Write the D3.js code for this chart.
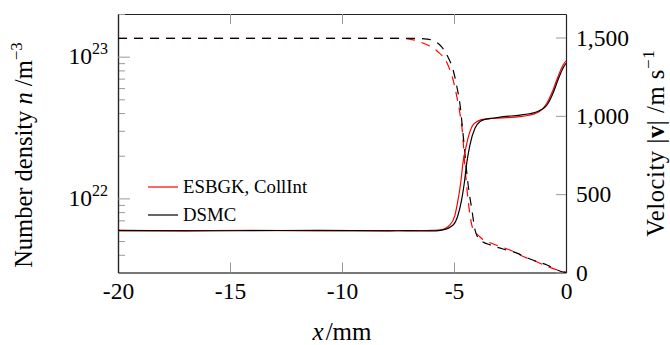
<!DOCTYPE html>
<html lang="en">
<head>
<meta charset="utf-8">
<script src="https://d3js.org/d3.v7.min.js"></script>
<style>
body{margin:0;background:#fff}
text{font-family:"Liberation Serif",serif;fill:#000}
</style>
</head>
<body>
<svg width="670" height="345"></svg>
<script>
// tick values
var xTicks = [-20,-15,-10,-5,0];
var velTicks = [0,500,1000,1500];
var densMajor = [1e22,1e23];
var densMinor = [4e21,5e21,6e21,7e21,8e21,9e21,2e22,3e22,4e22,5e22,6e22,7e22,8e22,9e22,2e23];

// number density (solid), m^-3
var esbgkDensX = [-20,-17,-14,-11,-8,-7,-6,-5.6,-5.18,-4.96,-4.82,-4.70,-4.60,-4.46,-4.29,-4.15,-4.06,-3.84,-3.62,-3.39,-2.81,-2.05,-1.29,-0.85,-0.58,-0.36,-0.13,0];
var esbgkDens  = [5.9e21,5.92e21,5.95e21,5.9e21,5.92e21,5.9e21,5.95e21,6.0e21,6.5e21,7.6e21,9.75e21,1.29e22,1.78e22,2.32e22,2.96e22,3.3e22,3.41e22,3.57e22,3.62e22,3.67e22,3.7e22,3.77e22,4.02e22,4.71e22,5.82e22,7.22e22,8.73e22,9.36e22];
var dsmcDensX = [-20,-17,-14,-11,-8,-7,-6,-5.6,-5.04,-4.82,-4.66,-4.54,-4.43,-4.29,-4.06,-3.84,-3.62,-3.39,-2.81,-2.05,-1.29,-0.85,-0.58,-0.36,-0.13,0];
var dsmcDens  = [5.95e21,5.9e21,5.92e21,5.95e21,5.9e21,5.92e21,5.9e21,5.95e21,6.49e21,7.63e21,9.75e21,1.285e22,1.78e22,2.38e22,3.14e22,3.48e22,3.61e22,3.65e22,3.77e22,3.87e22,4.09e22,4.56e22,5.52e22,6.84e22,8.32e22,8.98e22];

// velocity magnitude (dashed), m/s
var esbgkVelX = [-20,-10,-7.5,-7,-6.4,-5.76,-5.31,-5.04,-4.87,-4.73,-4.62,-4.51,-4.42,-4.29,-4.15,-4.06,-3.84,-3.71,-3.39,-2.95,-2.63,-2.19,-2.05,-1.47,-0.71,-0.3,0];
var esbgkVel  = [1495,1495,1494,1490,1465,1414,1337,1229,1120,1010,890,673,530,370,274,257,227,211,190,166,150,124,112,78,32,12,3];
var dsmcVelX = [-20,-10,-7,-6.2,-5.63,-5.27,-5.04,-4.87,-4.73,-4.60,-4.38,-4.20,-4.06,-3.84,-3.71,-3.39,-2.81,-2.19,-1.61,-0.85,-0.13,0];
var dsmcVel  = [1495,1495,1495,1490,1452,1375,1293,1184,1070,890,571,399,271,207,195,176,150,124,86,48,3,0];

var marge = {top:14,bottom:72.5,left:118,right:104};
var svg = d3.select("svg");
var width = +svg.attr("width") - marge.left - marge.right;
var height = +svg.attr("height") - marge.top - marge.bottom;
var g = svg.append("g").attr("transform","translate("+marge.left+","+marge.top+")");

var x = d3.scaleLinear().domain([-20,0]).range([0,width]);
var yDens = d3.scaleLog().domain([3e21,2e23]).range([height,0]);
var yVel = d3.scaleLinear().domain([0,1650]).range([height,0]);

var tickCol = "#999";
var fs = "23.5px";

// axes
var gx = g.append("g").attr("transform","translate(0,"+height+")")
    .call(d3.axisBottom(x).tickValues(xTicks).tickSize(-10).tickSizeOuter(0).tickPadding(10).tickFormat(function(d){return String(d);}));
var gxt = g.append("g")
    .call(d3.axisTop(x).tickValues(xTicks).tickSize(-10).tickSizeOuter(0).tickFormat(""));
var gyMin = g.append("g")
    .call(d3.axisLeft(yDens).tickValues(densMinor).tickSize(-7).tickSizeOuter(0).tickFormat(""));
var gy = g.append("g")
    .call(d3.axisLeft(yDens).tickValues(densMajor).tickSize(-12).tickSizeOuter(0).tickFormat(""));
var gyr = g.append("g").attr("transform","translate("+width+",0)")
    .call(d3.axisRight(yVel).tickValues(velTicks).tickSize(-10).tickSizeOuter(0).tickPadding(10).tickFormat(d3.format(",")));

[gx,gxt,gyMin,gy,gyr].forEach(function(a){
    a.selectAll(".tick line").attr("stroke",tickCol);
    a.selectAll("text").attr("font-family",null).attr("font-size",fs);
    a.select(".domain").attr("stroke","#222").attr("stroke-width",1.2);
});
gx.select(".domain").attr("stroke","#777").attr("stroke-width",2);

// 10^n labels
gy.selectAll(".tick").append("text")
    .attr("x",-10).attr("dy","0.3em").attr("text-anchor","end").attr("font-size",fs)
    .each(function(d){
        var t = d3.select(this);
        t.append("tspan").text("10");
        t.append("tspan").attr("font-size","16px").attr("dy","-0.65em").text(Math.round(Math.log10(d)));
    });

// curves
var lineD = function(xs){
    return d3.line().x(function(d,i){return x(xs[i]);}).y(function(d){return yDens(d);}).curve(d3.curveMonotoneX);
};
var lineV = function(xs){
    return d3.line().x(function(d,i){return x(xs[i]);}).y(function(d){return yVel(d);}).curve(d3.curveMonotoneX);
};
g.append("path").datum(esbgkVel).attr("d",lineV(esbgkVelX)).attr("fill","none").attr("stroke","#f00").attr("stroke-width",1.2).attr("stroke-dasharray","9,7");
g.append("path").datum(dsmcVel).attr("d",lineV(dsmcVelX)).attr("fill","none").attr("stroke","#000").attr("stroke-width",1.2).attr("stroke-dasharray","9,7");
g.append("path").datum(esbgkDens).attr("d",lineD(esbgkDensX)).attr("fill","none").attr("stroke","#f00").attr("stroke-width",1.2);
g.append("path").datum(dsmcDens).attr("d",lineD(dsmcDensX)).attr("fill","none").attr("stroke","#000").attr("stroke-width",1.2);

// legend
var legend = [{name:"ESBGK, CollInt",col:"#f00"},{name:"DSMC",col:"#000"}];
var lg = svg.append("g").attr("transform","translate(148,187)");
lg.selectAll("g").data(legend).enter().append("g")
    .attr("transform",function(d,i){return "translate(0,"+(i*28)+")";})
    .each(function(d){
        var e = d3.select(this);
        e.append("line").attr("x1",0).attr("x2",30).attr("stroke",d.col).attr("stroke-width",1.2);
        e.append("text").attr("x",35).attr("dy","0.32em").attr("font-size","18.8px").text(d.name);
    });

// axis labels
svg.append("text").attr("x",marge.left+width/2).attr("y",340).attr("text-anchor","middle").attr("font-size","25px")
    .call(function(t){
        t.append("tspan").attr("font-style","italic").text("x");
        t.append("tspan").attr("dx","2").text("/mm");
    });
svg.append("text").attr("transform","translate(32,155) rotate(-90)").attr("text-anchor","middle").attr("font-size","24.5px")
    .call(function(t){
        t.append("tspan").text("Number density ");
        t.append("tspan").attr("font-style","italic").text("n");
        t.append("tspan").text(" /m");
        t.append("tspan").attr("font-size","17px").attr("dy","-0.6em").text("\u22123");
    });
svg.append("text").attr("transform","translate(664,"+(marge.top+height/2)+") rotate(-90)").attr("text-anchor","middle").attr("font-size","24.5px").attr("letter-spacing","0.6px")
    .call(function(t){
        t.append("tspan").text("Velocity |");
        t.append("tspan").attr("font-weight","bold").text("v");
        t.append("tspan").text("| /m s");
        t.append("tspan").attr("font-size","17px").attr("dy","-0.6em").text("\u22121");
    });
</script>
</body>
</html>
